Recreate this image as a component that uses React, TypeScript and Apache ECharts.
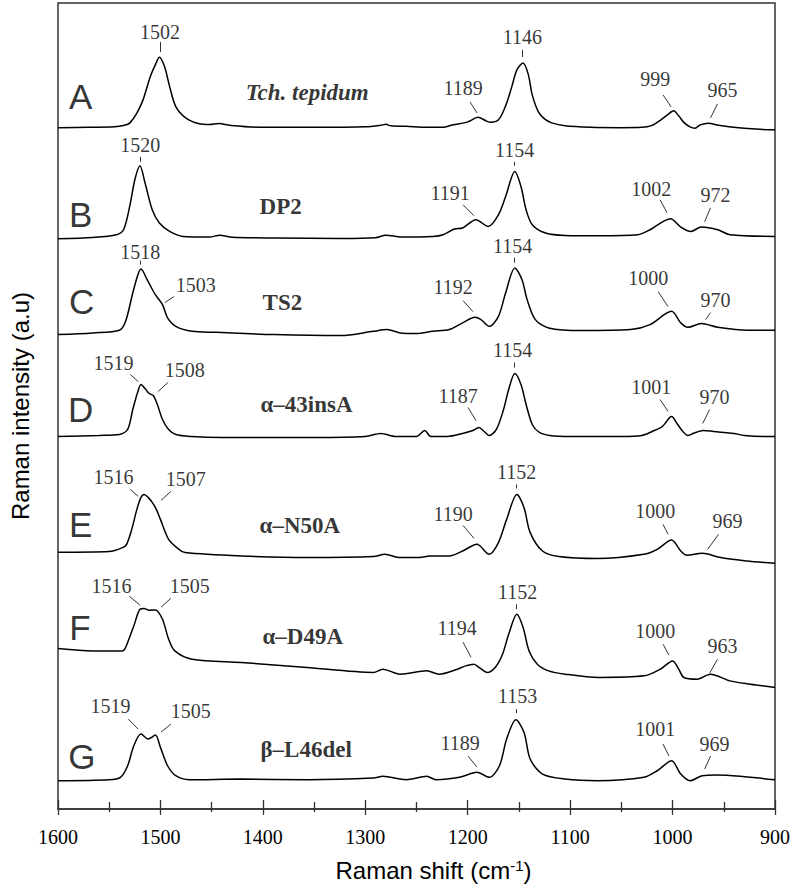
import React, { useEffect, useRef } from "react";
import * as echarts from "echarts";

// Raman shift axis (cm-1), drawn reversed
const X_TICKS = [1600, 1500, 1400, 1300, 1200, 1100, 1000, 900];

// Spectra: [Raman shift (cm-1), intensity (a.u., stacked)]
const specA: [number, number][] = [
  [1600, 682], [1570, 682.5], [1545, 683], [1535, 684.5], [1530, 686.7], [1523, 696.7], [1517, 710],
  [1510, 733], [1505, 745], [1501, 752.7], [1496, 743.3], [1491, 723.3], [1485, 703.3], [1475, 691.7],
  [1462, 686], [1452, 685.3], [1443, 686.3], [1432, 684.5], [1400, 682.5], [1350, 682.5], [1300, 683],
  [1285, 684.5], [1280, 685.5], [1275, 684], [1260, 683.5], [1240, 682.5], [1225, 682.5], [1214, 685],
  [1200, 688], [1190, 692.5], [1182, 689], [1178, 687.5], [1170, 690], [1163, 704], [1157, 723],
  [1152, 740], [1146, 747], [1141, 736], [1137, 715], [1131, 698], [1125, 691], [1118, 687], [1105, 684],
  [1080, 682.5], [1050, 682.2], [1030, 682.5], [1020, 684.5], [1012, 689.5], [1005, 695], [999, 699],
  [994, 694], [989, 687.5], [983, 683], [978, 681.7], [973, 685], [965, 686.7], [955, 684.5], [945, 683],
  [930, 681.5], [915, 680.5], [900, 680],
];
const specB: [number, number][] = [
  [1600, 571], [1566, 572.3], [1543, 575], [1536, 580], [1530, 603.3], [1525, 630], [1520, 644],
  [1515, 626.7], [1508, 600], [1501, 586.7], [1491, 578.3], [1478, 573.3], [1452, 572.7], [1442, 574.5],
  [1430, 572.5], [1389, 571.7], [1324, 571.3], [1290, 572], [1280, 574.5], [1265, 572.7], [1234, 573.3],
  [1224, 575], [1213, 580.7], [1205, 581.7], [1192, 590], [1180, 583.3], [1170, 595], [1163, 613.3],
  [1154, 638.3], [1148, 623.3], [1143, 600], [1137, 585], [1124, 576.7], [1105, 574.3], [1072, 574],
  [1034, 575], [1022, 580], [1002, 591], [992, 582.7], [982, 578.3], [972, 582.7], [956, 580], [944, 575],
  [900, 573.3],
];
const specC: [number, number][] = [
  [1600, 475], [1566, 476.7], [1540, 479.3], [1534, 488.3], [1527, 516.7], [1522, 535], [1519, 540.7],
  [1513, 530], [1505, 515], [1498, 505], [1493, 491.7], [1485, 483.3], [1469, 478.3], [1446, 477.3],
  [1389, 475], [1324, 474], [1292, 478.3], [1279, 480], [1266, 476.7], [1250, 476], [1234, 478.3],
  [1218, 480], [1205, 486.7], [1193, 492.3], [1187, 490], [1179, 483.3], [1170, 493.3], [1163, 516.7],
  [1154, 541.7], [1147, 530], [1142, 510], [1134, 490], [1121, 481.7], [1089, 479], [1041, 480],
  [1022, 485], [1001, 498.3], [992, 486.7], [985, 482.3], [972, 486], [956, 482.3], [927, 479.3],
  [900, 479.3],
];
const specD: [number, number][] = [
  [1600, 373], [1560, 374], [1540, 375], [1532, 380], [1527, 400], [1522, 418], [1519, 425], [1515, 421],
  [1511, 416], [1507, 414], [1503, 405], [1498, 390], [1492, 380], [1485, 375], [1470, 373], [1440, 372],
  [1400, 372], [1350, 372], [1300, 373], [1285, 376], [1270, 373], [1250, 373], [1242, 379], [1236, 373],
  [1220, 373], [1205, 376], [1195, 379], [1189, 382], [1184, 378], [1179, 374], [1172, 380], [1165, 400],
  [1160, 420], [1154, 436], [1148, 425], [1143, 405], [1137, 385], [1130, 377], [1120, 374], [1100, 373],
  [1050, 373], [1030, 374], [1020, 378], [1010, 383], [1001, 393], [995, 385], [990, 378], [985, 374],
  [980, 376], [970, 379], [960, 378], [950, 377], [940, 376], [930, 374], [910, 373], [900, 373],
];
const specE: [number, number][] = [
  [1600, 257], [1550, 257.7], [1537, 261.7], [1533, 265], [1528, 280], [1523, 300], [1519, 312],
  [1516, 315], [1512, 312], [1508, 307], [1504, 300], [1500, 290], [1492, 270], [1482, 260],
  [1476, 256.7], [1421, 253.3], [1356, 251.7], [1292, 252.7], [1281, 255], [1266, 251.7], [1247, 251.7],
  [1237, 253.3], [1218, 253.3], [1205, 258.3], [1191, 265], [1179, 255], [1170, 266.7], [1162, 290],
  [1152, 315], [1145, 301.7], [1139, 276.7], [1127, 258.3], [1111, 252.7], [1073, 250.7], [1028, 255],
  [1015, 260], [1001, 269.3], [992, 258.3], [986, 254], [971, 256], [953, 251.7], [928, 248.3], [900, 246],
];
const specF: [number, number][] = [
  [1600, 160.7], [1566, 158.3], [1537, 158.3], [1534, 161.7], [1526, 183.3], [1520, 200], [1516, 200.7],
  [1511, 199], [1505, 199.3], [1498, 190], [1492, 170], [1486, 158.3], [1469, 150], [1421, 146.7],
  [1357, 141.7], [1292, 136.7], [1283, 140], [1266, 135], [1240, 138.3], [1228, 135], [1210, 140],
  [1202, 143.3], [1194, 145], [1188, 141], [1181, 136.7], [1173, 142], [1166, 155], [1160, 175],
  [1152, 195], [1146, 182], [1140, 158], [1132, 145], [1121, 138.3], [1105, 135], [1072, 131.7],
  [1028, 133.3], [1012, 140], [1000, 148.3], [994, 140], [989, 131.7], [976, 130], [963, 135],
  [944, 128.3], [924, 125], [900, 121.7],
];
const specG: [number, number][] = [
  [1600, 28.3], [1550, 29.3], [1539, 31.7], [1532, 43.3], [1526, 63.3], [1519, 75], [1512, 70], [1505, 74],
  [1500, 61.7], [1493, 43.3], [1485, 33.3], [1472, 29.3], [1421, 30], [1356, 29.3], [1292, 31],
  [1283, 32.7], [1260, 29.3], [1240, 32.7], [1231, 29.3], [1208, 31.7], [1191, 36.7], [1179, 31.7],
  [1169, 43.3], [1162, 70], [1153, 89.3], [1145, 76.7], [1139, 50], [1127, 35], [1105, 30], [1073, 28.3],
  [1028, 31.7], [1015, 38.3], [1001, 48.3], [992, 35], [983, 28.3], [971, 33.3], [957, 34], [934, 32.7],
  [900, 29.3],
];
const SPECTRA = [specA, specB, specC, specD, specE, specF, specG];

// Panel letters and sample names
const PANEL_LETTERS = ["A", "B", "C", "D", "E", "F", "G"];
const LETTER_AT: [number, number][] = [
  [1577.8, 713], [1577.8, 595], [1576.8, 508], [1577.8, 400], [1577.8, 285], [1578.7, 182], [1576.8, 53],
];
const SAMPLE_NAMES = ["Tch. tepidum", "DP2", "TS2", "α–43insA", "α–N50A", "α–D49A", "β–L46del"];
const NAME_AT: [number, number][] = [
  [1417.3, 717], [1403.7, 603], [1400.8, 507], [1402.8, 405], [1403.7, 284], [1400.8, 173], [1402.8, 60],
];

// Peak annotations: text, label centre, leader line (data coordinates)
type Peak = { t: string; at: [number, number]; ln: [number, number][] };
const PEAKS: Peak[] = [
  // A
  { t: "1502", at: [1500.4, 778], ln: [[1500.4, 768], [1500.4, 758]] },
  { t: "1146", at: [1146.6, 773], ln: [[1146.6, 760], [1146.6, 753]] },
  { t: "1189", at: [1204.6, 722], ln: [[1197.8, 708], [1191.0, 697]] },
  { t: "999", at: [1017.0, 731], ln: [[1009.3, 715], [1001.5, 703]] },
  { t: "965", at: [951.2, 720], ln: [[956.1, 706], [962.9, 692]] },
  // B
  { t: "1520", at: [1519.8, 665], ln: [[1519.8, 653], [1519.8, 648]] },
  { t: "1154", at: [1154.3, 660], ln: [[1154.3, 648], [1154.3, 644]] },
  { t: "1191", at: [1217.1, 617], ln: [[1204.6, 605], [1193.9, 594]] },
  { t: "1002", at: [1020.9, 621], ln: [[1012.2, 610], [1005.4, 597]] },
  { t: "972", at: [958.0, 615], ln: [[962.9, 602], [968.7, 588]] },
  // C
  { t: "1518", at: [1519.8, 558], ln: [[1519.8, 549], [1519.8, 545]] },
  { t: "1503", at: [1465.6, 525], ln: [[1486.9, 513], [1495.6, 507]] },
  { t: "1154", at: [1156.2, 564], ln: [[1154.3, 552], [1154.3, 547]] },
  { t: "1192", at: [1214.2, 523], ln: [[1204.6, 509], [1194.9, 498]] },
  { t: "1000", at: [1023.8, 532], ln: [[1014.1, 518], [1004.4, 503]] },
  { t: "970", at: [958.0, 510], ln: [[962.9, 497], [967.7, 490]] },
  // D
  { t: "1519", at: [1545.9, 447], ln: [[1529.4, 435], [1521.7, 428]] },
  { t: "1508", at: [1476.2, 440], ln: [[1492.7, 427], [1502.3, 418]] },
  { t: "1154", at: [1156.2, 460], ln: [[1154.3, 447], [1154.3, 442]] },
  { t: "1187", at: [1209.4, 414], ln: [[1199.7, 402], [1192.0, 389]] },
  { t: "1001", at: [1020.9, 423], ln: [[1012.2, 410], [1004.4, 398]] },
  { t: "970", at: [959.0, 413], ln: [[963.8, 400], [970.6, 386]] },
  // E
  { t: "1516", at: [1545.9, 332], ln: [[1529.4, 320], [1521.7, 313]] },
  { t: "1507", at: [1475.3, 330], ln: [[1489.8, 318], [1499.4, 309]] },
  { t: "1152", at: [1152.3, 337], ln: [[1152.3, 325], [1152.3, 321]] },
  { t: "1190", at: [1214.2, 295], ln: [[1204.6, 284], [1193.9, 271]] },
  { t: "1000", at: [1017.0, 298], ln: [[1009.3, 285], [1004.4, 275]] },
  { t: "969", at: [946.4, 288], ln: [[955.1, 275], [965.8, 260]] },
  // F
  { t: "1516", at: [1547.8, 223], ln: [[1530.4, 213], [1519.8, 204]] },
  { t: "1505", at: [1471.4, 223], ln: [[1489.8, 211], [1499.4, 202]] },
  { t: "1152", at: [1151.4, 217], ln: [[1152.3, 205], [1152.3, 200]] },
  { t: "1194", at: [1210.4, 181], ln: [[1204.6, 167], [1196.8, 152]] },
  { t: "1000", at: [1017.0, 178], ln: [[1009.3, 165], [1003.5, 154]] },
  { t: "963", at: [951.2, 163], ln: [[956.1, 150], [963.8, 136]] },
  // G
  { t: "1519", at: [1548.8, 103], ln: [[1531.4, 90], [1521.7, 80]] },
  { t: "1505", at: [1470.4, 98], ln: [[1489.8, 85], [1499.4, 77]] },
  { t: "1153", at: [1151.4, 113], ln: [[1152.3, 100], [1152.3, 96]] },
  { t: "1189", at: [1207.5, 66], ln: [[1199.7, 53], [1191.0, 42]] },
  { t: "1001", at: [1017.0, 80], ln: [[1009.3, 65], [1003.5, 53]] },
  { t: "969", at: [959.0, 65], ln: [[962.9, 53], [968.7, 40]] },
];

const SERIF = "'Liberation Serif', 'Times New Roman', serif";
const SANS = "'Liberation Sans', Arial, sans-serif";

export default function App() {
  const ref = useRef<HTMLDivElement>(null);
  useEffect(() => {
    document.body.style.margin = "0";
    if (!ref.current) return;
    const chart = echarts.init(ref.current, undefined, { renderer: "svg" });
    const lineSeries = SPECTRA.map((d, i) => ({
      type: "line",
      name: SAMPLE_NAMES[i],
      data: d,
      showSymbol: false,
      smooth: 0.3,
      lineStyle: { color: "#000", width: 1.5 },
      silent: true,
      z: 3,
    }));
    const textLabel = {
      show: true,
      formatter: "{b}",
      textBorderWidth: 0,
      textShadowBlur: 0,
    };
    chart.setOption({
      animation: false,
      grid: { left: 54, right: 15, top: 3, bottom: 77, show: true, borderColor: "#333", borderWidth: 1.5 },
      xAxis: [
        {
          type: "value",
          min: X_TICKS[X_TICKS.length - 1],
          max: X_TICKS[0],
          interval: 100,
          inverse: true,
          name: "Raman shift (cm{sup|-1})",
          nameLocation: "middle",
          nameGap: 49,
          nameTextStyle: {
            fontFamily: SANS,
            fontSize: 24,
            color: "#000",
            padding: [0, 0, 0, 34],
            rich: { sup: { fontFamily: SANS, fontSize: 15, verticalAlign: "top", color: "#000" } },
          },
          axisLine: { show: true, lineStyle: { color: "#333", width: 1.5 } },
          axisTick: { show: true, inside: true, length: 9, lineStyle: { color: "#333", width: 1.3 } },
          minorTick: { show: true, splitNumber: 2, length: 7, lineStyle: { color: "#333", width: 1.3 } },
          axisLabel: {
            fontFamily: SERIF,
            fontSize: 20,
            color: "#000",
            margin: 18,
            formatter: (v: number) => String(v),
          },
          splitLine: { show: false },
        },
        {
          type: "value",
          min: X_TICKS[X_TICKS.length - 1],
          max: X_TICKS[0],
          interval: 100,
          inverse: true,
          position: "bottom",
          axisLine: { show: false },
          axisTick: { show: true, inside: false, length: 6, lineStyle: { color: "#333", width: 1.3 } },
          minorTick: { show: true, splitNumber: 2, length: 3, lineStyle: { color: "#333", width: 1.3 } },
          axisLabel: { show: false },
          splitLine: { show: false },
        },
      ],
      yAxis: {
        type: "value",
        min: 0,
        max: 807,
        name: "Raman intensity (a.u)",
        nameLocation: "middle",
        nameGap: 26,
        nameTextStyle: { fontFamily: SANS, fontSize: 24, color: "#000" },
        axisLine: { show: false },
        axisTick: { show: false },
        axisLabel: { show: false },
        splitLine: { show: false },
      },
      series: [
        ...lineSeries,
        {
          type: "lines",
          coordinateSystem: "cartesian2d",
          silent: true,
          lineStyle: { color: "#333", width: 1, opacity: 1 },
          data: PEAKS.map((p) => ({ coords: p.ln })),
          z: 4,
        },
        {
          type: "scatter",
          silent: true,
          symbolSize: 1,
          itemStyle: { color: "transparent" },
          label: { ...textLabel, position: "inside", fontFamily: SERIF, fontSize: 20, color: "#000" },
          data: PEAKS.map((p) => ({ name: p.t, value: p.at })),
          z: 5,
        },
        {
          type: "scatter",
          silent: true,
          symbolSize: 1,
          itemStyle: { color: "transparent" },
          label: { ...textLabel, position: "inside", fontFamily: SANS, fontSize: 35, color: "#000" },
          data: PANEL_LETTERS.map((t, i) => ({ name: t, value: LETTER_AT[i] })),
          z: 5,
        },
        {
          type: "scatter",
          silent: true,
          symbolSize: 1,
          itemStyle: { color: "transparent" },
          label: {
            ...textLabel,
            position: "right",
            distance: 0,
            fontFamily: SERIF,
            fontSize: 23,
            fontWeight: "bold",
            color: "#000",
          },
          data: SAMPLE_NAMES.map((t, i) => ({
            name: t,
            value: NAME_AT[i],
            label: i === 0 ? { fontStyle: "italic" } : undefined,
          })),
          z: 5,
        },
      ],
    });
    return () => chart.dispose();
  }, []);
  return <div ref={ref} style={{ width: 793, height: 887 }} />;
}
